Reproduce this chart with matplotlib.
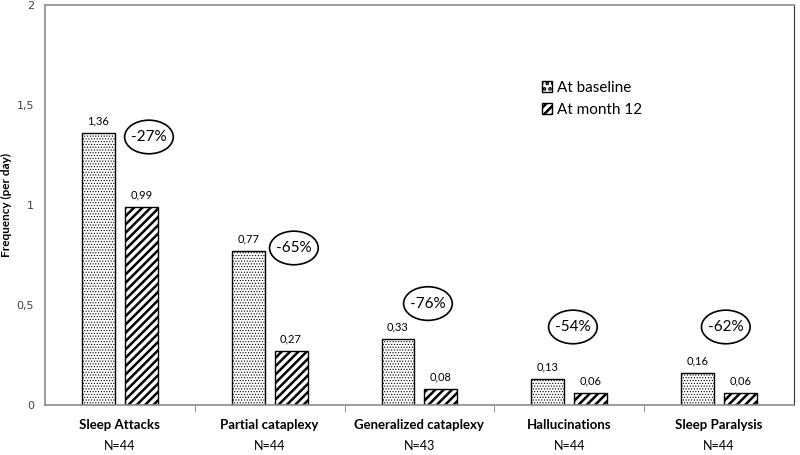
import numpy as np
import matplotlib.pyplot as plt
from matplotlib.patches import Ellipse, Patch
from matplotlib.ticker import FuncFormatter

categories = ['Sleep Attacks', 'Partial cataplexy', 'Generalized cataplexy',
              'Hallucinations', 'Sleep Paralysis']
n_labels = ['N=44', 'N=44', 'N=43', 'N=44', 'N=44']
baseline = [1.36, 0.77, 0.33, 0.13, 0.16]
month12 = [0.99, 0.27, 0.08, 0.06, 0.06]
changes = ['-27%', '-65%', '-76%', '-54%', '-62%']
# where each change bubble sits (x in category units, y in data units)
bubble_x = [0.194, 1.162, 2.057, 3.025, 4.046]
bubble_y = [1.34, 0.785, 0.507, 0.39, 0.39]

plt.rcParams['font.family'] = ['Lato', 'DejaVu Sans']
plt.rcParams['hatch.color'] = 'black'

fig = plt.figure(figsize=(8, 4.55), dpi=100)
ax = fig.add_axes([0.05625, 0.11, 0.936, 0.879])

x = np.arange(len(categories))
w = 0.22
off = 0.143

plt.rcParams['hatch.linewidth'] = 0.5
b1 = ax.bar(x - off, baseline, w, facecolor='white', edgecolor='black',
            hatch='......', linewidth=1, zorder=2)
plt.rcParams['hatch.linewidth'] = 1.8
b2 = ax.bar(x + off, month12, w, facecolor='white', edgecolor='black',
            hatch='////', linewidth=1, zorder=2)
for p in b1:
    if hasattr(p, 'set_hatch_linewidth'):
        p.set_hatch_linewidth(0.5)

fmt = lambda v: f"{v:.2f}".replace('.', ',')
for xi, v in zip(x - off, baseline):
    ax.text(xi, v + 0.035, fmt(v), ha='center', va='bottom', fontsize=8)
for xi, v in zip(x + off, month12):
    ax.text(xi, v + 0.035, fmt(v), ha='center', va='bottom', fontsize=8)

for bx, by, t in zip(bubble_x, bubble_y, changes):
    ax.add_patch(Ellipse((bx, by), 0.325, 0.168, facecolor='white',
                         edgecolor='black', linewidth=1.2, zorder=3))
    ax.text(bx, by, t, ha='center', va='center', fontsize=11, zorder=4)

ax.set_xlim(-0.5, 4.5)
ax.set_ylim(0, 2)
ax.set_yticks([0, 0.5, 1, 1.5, 2])
ax.yaxis.set_major_formatter(FuncFormatter(
    lambda v, pos: f"{v:g}".replace('.', ',')))
ax.tick_params(axis='y', length=0, labelsize=8, labelcolor='#404040', pad=8)
for lbl in ax.get_yticklabels():
    lbl.set_family('DejaVu Sans')

ax.set_xticks(x)
ax.set_xticklabels(categories, fontweight='bold', fontsize=9.5)
ax.tick_params(axis='x', which='major', length=0, pad=10)
ax.set_xticks(np.arange(0.5, 4.5, 1), minor=True)
ax.tick_params(axis='x', which='minor', length=5, direction='out',
               color='#808080')

for xi, t in zip(x, n_labels):
    ax.text(xi, -0.205, t, ha='center', va='center', fontsize=9,
            clip_on=False)

ax.set_ylabel('Frequency (per day)', fontweight='bold', fontsize=8.5)
ax.yaxis.set_label_coords(-0.044, 0.5)

for s in ['left', 'bottom', 'top']:
    ax.spines[s].set_color('#8c8c8c')
    ax.spines[s].set_linewidth(1.2)
ax.spines['right'].set_color('#303030')

plt.rcParams['hatch.linewidth'] = 0.5
h1 = Patch(facecolor='white', edgecolor='black', hatch='...')
plt.rcParams['hatch.linewidth'] = 1.8
h2 = Patch(facecolor='white', edgecolor='black', hatch='////')
ax.legend([h1, h2], ['At baseline', 'At month 12'], loc='upper left',
          bbox_to_anchor=(0.645, 0.845), frameon=False, fontsize=11,
          handlelength=0.7, handleheight=0.7, handletextpad=0.3,
          labelspacing=0.55)

plt.savefig('out.png', dpi=100)
